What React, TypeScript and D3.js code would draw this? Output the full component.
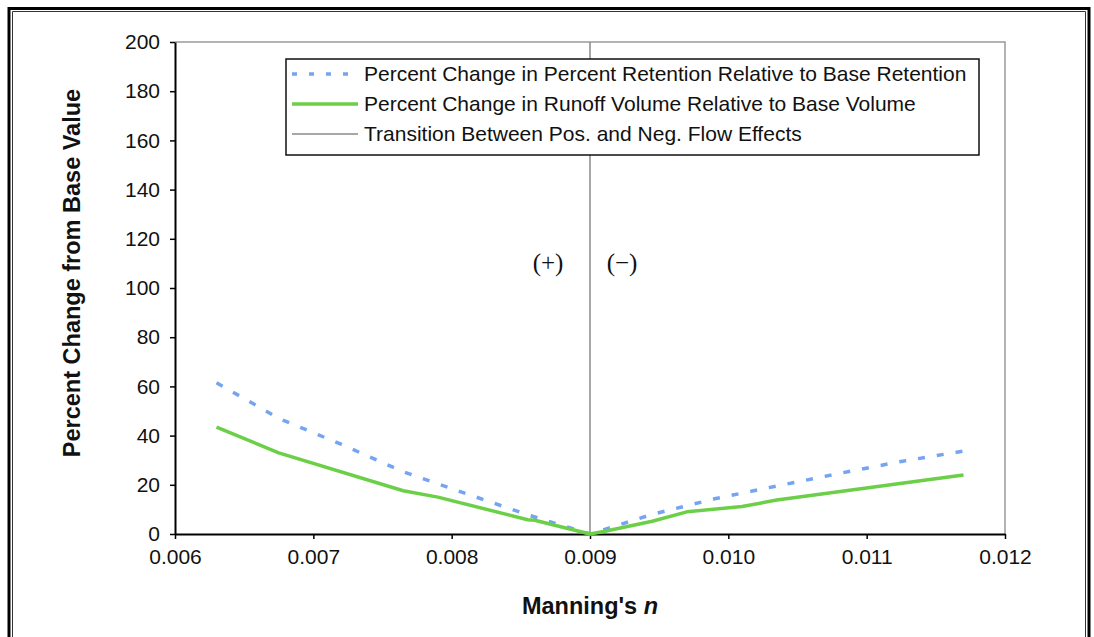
import React, { useEffect, useRef } from "react";
import * as d3 from "d3";

// Manning's n sweep (retention series)
const retentionN = [0.0063, 0.00675, 0.0072, 0.00765, 0.0081, 0.00855, 0.009, 0.00945, 0.0099, 0.01035, 0.0108, 0.01125, 0.0117];
const retentionChange = [61.5, 47, 36.5, 25.3, 16.5, 7.8, 0, 8, 14.3, 19.5, 24.6, 29.5, 33.7];

// runoff series
const runoffN = [0.0063, 0.00675, 0.00765, 0.0079, 0.00855, 0.0086, 0.009, 0.0091, 0.00945, 0.0097, 0.0101, 0.01035, 0.0117];
const runoffChange = [43.4, 33, 17.6, 15, 5.8, 5.6, 0, 1, 5.2, 9, 11.2, 13.8, 24];

const xTicks = [0.006, 0.007, 0.008, 0.009, 0.01, 0.011, 0.012];
const yTicks = [0, 20, 40, 60, 80, 100, 120, 140, 160, 180, 200];
const transitionN = 0.009;

const legendItems = [
  "Percent Change in Percent Retention Relative to Base Retention",
  "Percent Change in Runoff Volume Relative to Base Volume",
  "Transition Between Pos. and Neg. Flow Effects",
];

const W = 1094;
const H = 637;
const PLOT = { left: 175, right: 1005, top: 42, bottom: 534 };
const FONT = "'Liberation Sans', Arial, sans-serif";
const BLUE = "#74a4f2";
const GREEN = "#6ccf48";

const App = () => {
  const ref = useRef(null);

  useEffect(() => {
    const svg = d3.select(ref.current);
    svg.selectAll("*").remove();

    const x = d3.scaleLinear().domain([0.006, 0.012]).range([PLOT.left, PLOT.right]);
    const y = d3.scaleLinear().domain([0, 200]).range([PLOT.bottom, PLOT.top]);

    // outer frame (double line)
    const frame = svg.append("g").attr("fill", "none");
    frame.append("path")
      .attr("d", `M9,${H + 5} V8.5 H1089 V${H + 5}`)
      .attr("stroke", "#000").attr("stroke-width", 3);
    frame.append("path")
      .attr("d", `M12.5,${H + 5} V11.5 H1085.5 V${H + 5}`)
      .attr("stroke", "#333").attr("stroke-width", 1);

    // plot area border
    svg.append("path")
      .attr("d", `M${PLOT.left},${PLOT.top} H${PLOT.right} V${PLOT.bottom}`)
      .attr("fill", "none").attr("stroke", "#9a9a9a").attr("stroke-width", 1.5);

    // transition line
    svg.append("line")
      .attr("x1", x(transitionN)).attr("x2", x(transitionN))
      .attr("y1", y(200)).attr("y2", y(0))
      .attr("stroke", "#8a8a8a").attr("stroke-width", 1.5);

    // axes
    const xAxis = svg.append("g")
      .attr("transform", `translate(0,${PLOT.bottom})`)
      .call(d3.axisBottom(x).tickValues(xTicks).tickFormat(d3.format(".3f")).tickSize(5).tickSizeOuter(0));
    const yAxis = svg.append("g")
      .attr("transform", `translate(${PLOT.left},0)`)
      .call(d3.axisLeft(y).tickValues(yTicks).tickSize(5).tickSizeOuter(0));
    [xAxis, yAxis].forEach((a) => {
      a.select(".domain").attr("stroke", "#000").attr("stroke-width", 2);
      a.selectAll(".tick line").attr("stroke", "#000").attr("stroke-width", 1.5);
      a.selectAll(".tick text").attr("fill", "#111").style("font-family", FONT).style("font-size", "21px");
    });
    xAxis.selectAll(".tick text").attr("dy", "1.0em").attr("y", 9);
    yAxis.selectAll(".tick text").attr("x", -15);

    // lines
    const lineGen = d3.line().x((d) => x(d[0])).y((d) => y(d[1]));
    svg.append("path")
      .attr("d", lineGen(d3.zip(retentionN, retentionChange)))
      .attr("fill", "none").attr("stroke", BLUE).attr("stroke-width", 3.5)
      .attr("stroke-dasharray", "7 12");
    svg.append("path")
      .attr("d", lineGen(d3.zip(runoffN, runoffChange)))
      .attr("fill", "none").attr("stroke", GREEN).attr("stroke-width", 3.5)
      .attr("stroke-linejoin", "round");

    // (+) / (-) labels
    const sign = svg.append("g")
      .style("font-family", "'Liberation Serif', 'Times New Roman', serif")
      .style("font-size", "25px").attr("fill", "#111");
    sign.append("text").attr("x", x(transitionN) - 42).attr("y", 271).attr("text-anchor", "middle").text("(+)");
    sign.append("text").attr("x", x(transitionN) + 32).attr("y", 271).attr("text-anchor", "middle").text("(\u2212)");

    // legend
    const legend = svg.append("g").attr("transform", "translate(286,59)");
    legend.append("rect").attr("width", 693).attr("height", 96)
      .attr("fill", "#fff").attr("stroke", "#111").attr("stroke-width", 1.5);
    const styles = [
      { stroke: BLUE, width: 3.5, dash: "5 12" },
      { stroke: GREEN, width: 3.5, dash: null },
      { stroke: "#8a8a8a", width: 1.5, dash: null },
    ];
    legendItems.forEach((label, i) => {
      const cy = 15 + i * 30;
      legend.append("line")
        .attr("x1", 6).attr("x2", 72).attr("y1", cy).attr("y2", cy)
        .attr("stroke", styles[i].stroke).attr("stroke-width", styles[i].width)
        .attr("stroke-dasharray", styles[i].dash);
      legend.append("text")
        .attr("x", 78).attr("y", cy + 7)
        .style("font-family", FONT).style("font-size", "21px").attr("fill", "#111")
        .text(label);
    });

    // axis titles
    svg.append("text")
      .attr("transform", "translate(80,273) rotate(-90)")
      .attr("text-anchor", "middle")
      .style("font-family", FONT).style("font-size", "23.5px").style("font-weight", "bold")
      .attr("fill", "#111")
      .text("Percent Change from Base Value");
    const xt = svg.append("text")
      .attr("x", x(transitionN)).attr("y", 614).attr("text-anchor", "middle")
      .style("font-family", FONT).style("font-size", "23.5px").style("font-weight", "bold")
      .attr("fill", "#111");
    xt.append("tspan").text("Manning's ");
    xt.append("tspan").style("font-style", "italic").text("n");
  }, []);

  return (
    <svg
      ref={ref}
      width={W}
      height={H}
      style={{ position: "absolute", left: 0, top: 0, background: "#fff" }}
    />
  );
};

export default App;
